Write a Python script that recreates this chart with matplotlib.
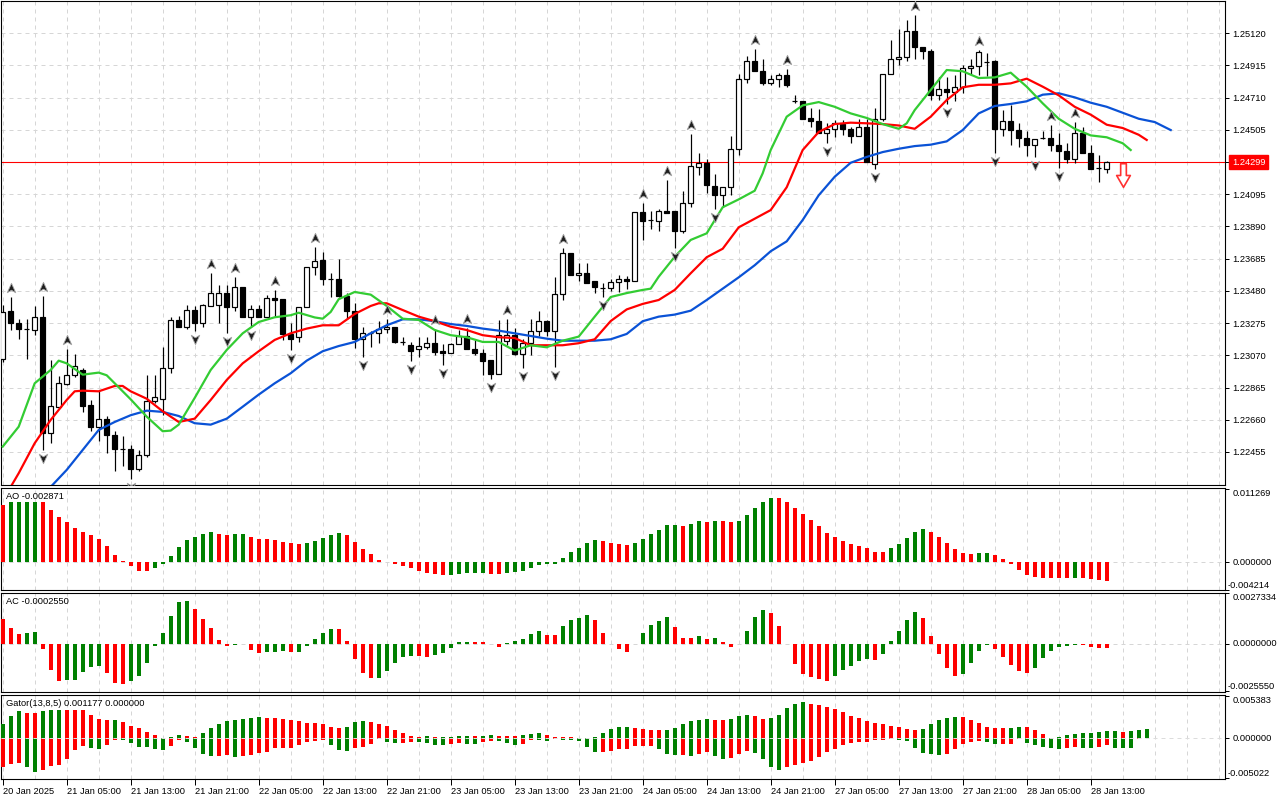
import matplotlib
matplotlib.use('Agg')
import numpy as np
import matplotlib.pyplot as plt
import matplotlib.transforms as mtransforms
from matplotlib.path import Path

# ---------------- data (H1 EURUSD-like) ----------------
opens = [1.23047,1.23352,1.23276,1.23238,1.23231,1.23314,1.22576,1.22741,1.22888,1.22945,
1.22977,1.22754,1.22614,1.22665,1.22563,1.22474,1.22474,1.22347,1.22436,1.22780,
1.22792,1.22990,1.23295,1.23250,1.23358,1.23276,1.23384,1.23390,1.23466,1.23378,
1.23505,1.23314,1.23365,1.23314,1.23435,1.23428,1.23206,1.23187,1.23378,1.23632,
1.23676,1.23556,1.23556,1.23447,1.23352,1.23174,1.23212,1.23212,1.23238,1.23250,
1.23155,1.23136,1.23110,1.23123,1.23149,1.23098,1.23085,1.23142,1.23193,1.23110,
1.23085,1.23040,1.22951,1.23161,1.23199,1.23079,1.23149,1.23225,1.23288,1.23225,
1.23460,1.23721,1.23581,1.23594,1.23543,1.23498,1.23498,1.23537,1.23556,1.23543,
1.23982,1.23931,1.23924,1.23988,1.23988,1.23861,1.24039,1.24268,1.24293,1.24147,
1.24090,1.24141,1.24382,1.24828,1.24942,1.24878,1.24802,1.24828,1.24853,1.24688,
1.24688,1.24580,1.24560,1.24484,1.24510,1.24541,1.24510,1.24465,1.24522,1.24287,
1.24573,1.24859,1.24955,1.24968,1.25133,1.25031,1.25006,1.24726,1.24764,1.24745,
1.24777,1.24897,1.24910,1.24936,1.24942,1.24510,1.24560,1.24503,1.24452,1.24408,
1.24452,1.24452,1.24408,1.24370,1.24319,1.24484,1.24357,1.24262,1.24255]
highs = [1.23390,1.23441,1.23301,1.23301,1.23384,1.23447,1.23040,1.22939,1.23110,1.23079,
1.22990,1.22786,1.22843,1.22684,1.22589,1.22557,1.22500,1.22468,1.22945,1.22945,
1.23123,1.23314,1.23320,1.23390,1.23384,1.23397,1.23594,1.23517,1.23517,1.23568,
1.23505,1.23390,1.23390,1.23454,1.23486,1.23428,1.23276,1.23378,1.23632,1.23759,
1.23727,1.23594,1.23683,1.23466,1.23403,1.23250,1.23225,1.23288,1.23301,1.23250,
1.23187,1.23155,1.23187,1.23187,1.23238,1.23142,1.23149,1.23231,1.23244,1.23168,
1.23110,1.23040,1.23295,1.23301,1.23244,1.23174,1.23301,1.23352,1.23295,1.23568,
1.23753,1.23721,1.23657,1.23657,1.23543,1.23530,1.23556,1.23581,1.23575,1.23982,
1.24039,1.23988,1.24001,1.24185,1.23988,1.24115,1.24478,1.24357,1.24319,1.24223,
1.24141,1.24465,1.24859,1.24974,1.25018,1.24955,1.24853,1.24866,1.24891,1.24726,
1.24688,1.24643,1.24637,1.24548,1.24567,1.24567,1.24522,1.24573,1.24573,1.24643,
1.24859,1.25076,1.25146,1.25203,1.25235,1.25031,1.25018,1.24840,1.24840,1.24853,
1.24917,1.24955,1.25012,1.24993,1.24948,1.24630,1.24662,1.24548,1.24497,1.24446,
1.24497,1.24535,1.24484,1.24421,1.24554,1.24522,1.24408,1.24344,1.24306]
lows = [1.23028,1.23231,1.23174,1.23047,1.23199,1.22468,1.22513,1.22729,1.22881,1.22932,
1.22710,1.22589,1.22525,1.22449,1.22334,1.22366,1.22284,1.22334,1.22424,1.22767,
1.22691,1.22958,1.23250,1.23238,1.23225,1.23250,1.23384,1.23276,1.23212,1.23352,
1.23314,1.23250,1.23314,1.23314,1.23314,1.23168,1.23104,1.23155,1.23378,1.23581,
1.23517,1.23441,1.23441,1.23301,1.23117,1.23060,1.23123,1.23149,1.23212,1.23149,
1.23136,1.23034,1.23060,1.23110,1.23072,1.23009,1.23085,1.23142,1.23110,1.23072,
1.22945,1.22920,1.22951,1.23136,1.23072,1.22990,1.23072,1.23193,1.23193,1.22996,
1.23422,1.23581,1.23543,1.23530,1.23466,1.23441,1.23479,1.23473,1.23492,1.23543,
1.23804,1.23874,1.23861,1.23975,1.23753,1.23848,1.24014,1.24217,1.24103,1.24001,
1.24014,1.24090,1.24344,1.24802,1.24878,1.24789,1.24789,1.24777,1.24777,1.24675,
1.24573,1.24522,1.24484,1.24421,1.24459,1.24471,1.24421,1.24465,1.24300,1.24255,
1.24560,1.24859,1.24917,1.24942,1.24955,1.24955,1.24694,1.24694,1.24669,1.24688,
1.24739,1.24853,1.24853,1.24847,1.24357,1.24465,1.24408,1.24395,1.24338,1.24332,
1.24446,1.24370,1.24262,1.24293,1.24293,1.24357,1.24255,1.24173,1.24230]
closes = [1.23346,1.23276,1.23238,1.23240,1.23314,1.22576,1.22748,1.22894,1.22945,1.23002,
1.22748,1.22614,1.22665,1.22563,1.22474,1.22476,1.22347,1.22436,1.22780,1.22805,
1.22990,1.23295,1.23250,1.23358,1.23276,1.23390,1.23466,1.23466,1.23378,1.23505,
1.23314,1.23365,1.23314,1.23435,1.23422,1.23206,1.23174,1.23378,1.23632,1.23670,
1.23556,1.23554,1.23447,1.23352,1.23174,1.23212,1.23214,1.23238,1.23250,1.23155,
1.23157,1.23098,1.23129,1.23149,1.23091,1.23085,1.23142,1.23193,1.23110,1.23085,
1.23034,1.22951,1.23199,1.23199,1.23079,1.23149,1.23225,1.23288,1.23225,1.23460,
1.23721,1.23581,1.23594,1.23530,1.23505,1.23500,1.23537,1.23556,1.23543,1.23982,
1.23924,1.23933,1.23988,1.23975,1.23861,1.24039,1.24274,1.24293,1.24153,1.24090,
1.24141,1.24382,1.24828,1.24942,1.24878,1.24802,1.24828,1.24853,1.24789,1.24690,
1.24573,1.24560,1.24484,1.24510,1.24548,1.24510,1.24465,1.24522,1.24300,1.24573,
1.24859,1.24955,1.24968,1.25133,1.25031,1.25006,1.24726,1.24764,1.24745,1.24777,
1.24897,1.24910,1.24999,1.24938,1.24510,1.24560,1.24503,1.24452,1.24408,1.24446,
1.24454,1.24408,1.24370,1.24319,1.24484,1.24357,1.24255,1.24264,1.24299]

# Alligator (bar index -> price)
jaw_idx = list(range(6, 147, 2))
jaw_vals = [1.22233,1.22341,1.22468,1.22595,1.22646,1.22689,1.22718,1.22710,1.22684,1.22638,
1.22629,1.22667,1.22743,1.22820,1.22892,1.22956,1.23036,1.23096,1.23129,1.23155,
1.23210,1.23261,1.23299,1.23299,1.23287,1.23269,1.23257,1.23240,1.23227,1.23210,
1.23193,1.23176,1.23163,1.23163,1.23163,1.23172,1.23206,1.23287,1.23316,1.23329,
1.23354,1.23422,1.23494,1.23566,1.23643,1.23732,1.23795,1.23931,1.24088,1.24206,
1.24295,1.24332,1.24363,1.24384,1.24401,1.24410,1.24431,1.24503,1.24609,1.24656,
1.24669,1.24686,1.24728,1.24737,1.24711,1.24677,1.24651,1.24613,1.24575,1.24554,1.24503]
teeth_idx = [1,2,4,6,8,9,10,12,14,15,16,18,20,22,24,26,28,30,32,34,36,38,40,42,44,46,47,48,
50,52,54,56,58,60,62,64,66,68,70,72,74,76,78,80,82,84,86,88,90,92,94,96,98,100,102,104,
106,108,110,112,114,116,118,120,122,124,126,128,130,132,134,136,138,140,142,143]
teeth_vals = [1.22233,1.22320,1.22511,1.22659,1.22786,1.22841,1.22845,1.22841,1.22875,1.22875,
1.22841,1.22794,1.22714,1.22646,1.22667,1.22786,1.22913,1.23019,1.23096,1.23168,
1.23210,1.23240,1.23261,1.23261,1.23333,1.23384,1.23401,1.23401,1.23358,1.23316,
1.23287,1.23252,1.23231,1.23198,1.23185,1.23180,1.23134,1.23134,1.23134,1.23147,
1.23172,1.23288,1.23362,1.23397,1.23422,1.23486,1.23592,1.23694,1.23748,1.23884,
1.23939,1.23994,1.24139,1.24376,1.24491,1.24541,1.24550,1.24546,1.24541,1.24532,
1.24511,1.24588,1.24694,1.24775,1.24791,1.24791,1.24800,1.24830,1.24779,1.24724,
1.24651,1.24601,1.24537,1.24516,1.24473,1.24440]
lips_idx = [0,2,4,6,7,8,10,12,13,14,16,18,20,21,22,24,26,28,30,32,34,36,37,39,40,41,42,44,
46,48,50,52,54,56,58,60,62,64,66,68,70,72,74,76,78,80,81,82,84,86,88,90,92,94,95,96,98,
100,102,104,106,108,110,112,113,114,116,118,120,122,124,126,128,130,132,134,136,138,140,141]
lips_vals = [1.22489,1.22616,1.22892,1.22977,1.23036,1.23019,1.22947,1.22960,1.22943,1.22892,
1.22790,1.22680,1.22587,1.22591,1.22629,1.22799,1.22977,1.23104,1.23210,1.23282,
1.23312,1.23325,1.23341,1.23311,1.23303,1.23346,1.23427,1.23473,1.23456,1.23384,
1.23303,1.23295,1.23231,1.23198,1.23185,1.23155,1.23155,1.23100,1.23134,1.23121,
1.23163,1.23189,1.23316,1.23441,1.23466,1.23486,1.23494,1.23570,1.23697,1.23804,
1.23846,1.24012,1.24062,1.24117,1.24228,1.24376,1.24588,1.24660,1.24681,1.24651,
1.24609,1.24580,1.24541,1.24511,1.24546,1.24630,1.24758,1.24885,1.24877,1.24834,
1.24838,1.24868,1.24779,1.24673,1.24575,1.24511,1.24469,1.24457,1.24419,1.24376]

fractal_up_idx = [1,5,8,26,29,34,39,48,54,58,63,70,80,83,86,94,98,114,122,131,134]
fractal_down_idx = [5,16,24,28,31,36,45,51,55,61,65,69,75,84,89,103,109,118,124,129,132]

current_price = 1.24299
signal_idx = 140
signal_price = 1.24214

ao = [0.008824,0.009340,0.009350,0.009360,0.009370,0.009300,0.008050,0.007018,0.006244,0.005315,
0.004696,0.004231,0.003612,0.002528,0.001135,0.000206,-0.000516,-0.001290,-0.001300,-0.000826,
-0.000206,0.000980,0.002374,0.003509,0.003922,0.004386,0.004696,0.004386,0.004231,0.004386,
0.004390,0.003922,0.003612,0.003600,0.003457,0.003148,0.002993,0.002838,0.002993,0.003302,
0.003767,0.004231,0.004541,0.004231,0.003148,0.002064,0.001290,0.000361,0.000030,-0.000206,
-0.000568,-0.000826,-0.001290,-0.001600,-0.001754,-0.001909,-0.001900,-0.001754,-0.001600,-0.001590,
-0.001585,-0.001754,-0.001760,-0.001600,-0.001445,-0.001290,-0.000826,-0.000413,-0.000310,-0.000206,
0.000671,0.001600,0.002219,0.002993,0.003457,0.003302,0.002993,0.002838,0.002683,0.002993,
0.003612,0.004386,0.005005,0.005779,0.005790,0.005624,0.005934,0.006398,0.006244,0.006398,
0.006390,0.006244,0.006398,0.007327,0.008411,0.009340,0.009959,0.009950,0.009340,0.008411,
0.007482,0.006553,0.005624,0.004541,0.003922,0.003302,0.002838,0.002528,0.002219,0.001600,
0.001590,0.002219,0.002838,0.003767,0.004696,0.005160,0.004696,0.003922,0.002993,0.002064,
0.001445,0.001290,0.001445,0.001450,0.001135,0.000516,-0.000206,-0.001135,-0.001909,-0.002219,
-0.002374,-0.002380,-0.002385,-0.002477,-0.002374,-0.002380,-0.002528,-0.002683,-0.002871]
ac = [0.001331,0.000845,0.000522,0.000576,0.000630,-0.000288,-0.001421,-0.002015,-0.001961,-0.001955,
-0.001529,-0.001259,-0.001205,-0.001583,-0.002123,-0.002177,-0.002015,-0.001745,-0.001025,-0.000126,
0.000576,0.001493,0.002249,0.002303,0.001871,0.001331,0.000845,0.000198,-0.000108,-0.000054,
-0.000036,-0.000324,-0.000486,-0.000432,-0.000428,-0.000378,-0.000432,-0.000430,-0.000108,0.000252,
0.000576,0.000792,0.000790,0.000144,-0.000828,-0.001583,-0.001853,-0.001850,-0.001475,-0.001043,
-0.000720,-0.000666,-0.000670,-0.000720,-0.000612,-0.000504,-0.000234,0.000072,0.000075,0.000072,
0.000070,-0.000020,-0.000162,0.000054,0.000162,0.000252,0.000540,0.000684,0.000468,0.000465,
0.000953,0.001277,0.001385,0.001547,0.001277,0.000576,-0.000036,-0.000288,-0.000450,-0.000036,
0.000576,0.001007,0.001223,0.001439,0.000900,0.000306,0.000300,0.000414,0.000252,0.000306,
0.000090,-0.000162,0.000010,0.000684,0.001439,0.001817,0.001655,0.000953,-0.000036,-0.001079,
-0.001619,-0.001799,-0.001907,-0.002015,-0.001745,-0.001421,-0.001205,-0.000935,-0.000828,-0.000882,
-0.000558,0.000144,0.000684,0.001277,0.001709,0.001385,0.000414,-0.000540,-0.001295,-0.001727,
-0.001619,-0.001025,-0.000396,-0.000054,-0.000270,-0.000702,-0.001133,-0.001457,-0.001565,-0.001295,
-0.000756,-0.000378,-0.000162,-0.000108,-0.000054,-0.000060,-0.000162,-0.000216,-0.000255]
gator_upper = [0.001777,0.002792,0.003426,0.003173,0.003170,0.003426,0.003553,0.003560,0.003550,0.003545,
0.003540,0.002919,0.002411,0.002284,0.002290,0.002030,0.001523,0.001269,0.000761,0.000381,
0.000040,0.000127,0.000381,0.000254,0.000127,0.000635,0.001227,0.001777,0.002157,0.002284,
0.002411,0.002538,0.002665,0.002538,0.002530,0.002411,0.002284,0.002115,0.001904,0.001900,
0.001777,0.001396,0.001269,0.001396,0.002030,0.002157,0.002030,0.001777,0.001523,0.001015,
0.000610,0.000250,0.000150,0.000230,0.000110,0.000120,0.000130,0.000250,0.000260,0.000250,
0.000260,0.000380,0.000260,0.000250,0.000240,0.000340,0.000470,0.000600,0.000380,0.000130,
0.000100,0.000090,0.000020,0.000040,0.000130,0.000592,0.001100,0.001354,0.001360,0.001227,
0.001100,0.000973,0.000970,0.000975,0.001227,0.001734,0.002115,0.002242,0.002369,0.002242,
0.002240,0.002369,0.002750,0.002876,0.002750,0.002369,0.002496,0.002876,0.003765,0.004272,
0.004526,0.004272,0.004145,0.003892,0.003638,0.003257,0.002750,0.002496,0.002115,0.001861,
0.001734,0.001481,0.001354,0.001100,0.001015,0.001142,0.001777,0.002284,0.002538,0.002665,
0.002660,0.002284,0.001904,0.001396,0.001269,0.001265,0.001270,0.001396,0.001390,0.001015,
0.000508,0.000042,0.000127,0.000381,0.000508,0.000635,0.000640,0.000761,0.000888,0.000890,
0.000761,0.000888,0.001015,0.001177]
gator_lower = [-0.003722,-0.003299,-0.003215,-0.003638,-0.004272,-0.004019,-0.003511,-0.003384,-0.002623,-0.001481,
-0.000973,-0.001269,-0.001354,-0.000846,-0.000212,-0.000220,-0.000592,-0.001100,-0.001184,-0.001354,
-0.001481,-0.000973,-0.000212,-0.000465,-0.001227,-0.001988,-0.002242,-0.002240,-0.002115,-0.002453,
-0.002327,-0.002115,-0.001946,-0.001819,-0.001269,-0.001227,-0.001220,-0.000846,-0.000465,-0.000338,
-0.000296,-0.000846,-0.001481,-0.001607,-0.001227,-0.001100,-0.000719,-0.000085,-0.000465,-0.000635,
-0.000570,-0.000450,-0.000480,-0.000600,-0.000880,-0.000900,-0.000760,-0.000650,-0.000750,-0.000760,
-0.000550,-0.000420,-0.000430,-0.000590,-0.000850,-0.000780,-0.000300,-0.000310,-0.000320,-0.000100,
-0.000230,-0.000240,-0.000360,-0.001100,-0.001750,-0.001730,-0.001692,-0.001438,-0.001396,-0.001058,
-0.001050,-0.001040,-0.001438,-0.002073,-0.002200,-0.002195,-0.002327,-0.002073,-0.001819,-0.002327,
-0.002707,-0.002580,-0.002073,-0.001692,-0.001946,-0.002707,-0.003722,-0.004103,-0.003722,-0.003469,
-0.003215,-0.002961,-0.002453,-0.001819,-0.001438,-0.000931,-0.000677,-0.000550,-0.000545,-0.000296,
-0.000290,-0.000169,-0.000296,-0.000423,-0.001227,-0.001861,-0.001988,-0.002115,-0.001988,-0.001354,
-0.000719,-0.000465,-0.000338,-0.000465,-0.000719,-0.000715,-0.000710,-0.000085,-0.000592,-0.000846,
-0.001100,-0.001227,-0.001354,-0.001227,-0.001100,-0.001227,-0.001230,-0.001100,-0.000846,-0.001227,
-0.001230,-0.001235,-0.000085,-0.000040]

price_ticks = [1.22455,1.22660,1.22865,1.23070,1.23275,1.23480,1.23685,1.23890,1.24095,
               1.24300,1.24505,1.24710,1.24915,1.25120]
time_tick_idx = list(range(0, 137, 8))
time_tick_labels = ['20 Jan 2025','21 Jan 05:00','21 Jan 13:00','21 Jan 21:00','22 Jan 05:00',
                    '22 Jan 13:00','22 Jan 21:00','23 Jan 05:00','23 Jan 13:00','23 Jan 21:00',
                    '24 Jan 05:00','24 Jan 13:00','24 Jan 21:00','27 Jan 05:00','27 Jan 13:00',
                    '27 Jan 21:00','28 Jan 05:00','28 Jan 13:00']
ao_range = (-0.004214, 0.011269)
ac_range = (-0.0025550, 0.0027334)
gator_range = (-0.005022, 0.005383)

# ---------------- style ----------------
plt.rcParams['font.family'] = ['Liberation Sans', 'DejaVu Sans']
FS = 6.7
GREEN = '#008000'
RED = '#ff0000'
GRID = '#d6d6d6'
PX = 0.72  # one pixel in points at 100 dpi

fig = plt.figure(figsize=(12.8, 8), dpi=100)
W, H = 1280.0, 800.0


def rect(x0, y0, x1, y1):
    return [x0 / W, 1 - y1 / H, (x1 - x0) / W, (y1 - y0) / H]


ax = fig.add_axes(rect(1, 1, 1225, 485))
ax_ao = fig.add_axes(rect(1, 488, 1225, 590))
ax_ac = fig.add_axes(rect(1, 593, 1225, 692))
ax_g = fig.add_axes(rect(1, 695, 1225, 779))
XL = ((1 - 2.7) / 8, (1225 - 2.7) / 8)

for a in (ax, ax_ao, ax_ac, ax_g):
    a.set_xlim(*XL)
    for s in a.spines.values():
        s.set_color('black')
        s.set_linewidth(PX * 1.1)
    for g in range(0, 153, 4):
        a.axvline(g, color=GRID, lw=PX, ls=(0, (4, 4)), zorder=0.5)
    a.yaxis.tick_right()
    a.tick_params(axis='y', direction='out', length=3, width=PX, pad=2.2, labelsize=FS)
    a.set_xticks([])

# ---------------- main chart ----------------
ax.set_ylim(1.22245, 1.25324)
for t in price_ticks:
    ax.axhline(t, color=GRID, lw=PX, ls=(0, (4, 4)), zorder=0.5)
ax.set_yticks(price_ticks)
ax.set_yticklabels([f'{t:.5f}' if abs(t - current_price) > 0.0001 else '' for t in price_ticks])

o = np.array(opens); hi = np.array(highs); lo = np.array(lows); c = np.array(closes)
x = np.arange(len(o))
ax.axhline(current_price, color=RED, lw=PX * 1.1, zorder=2)
ax.vlines(x, lo, hi, color='black', linewidth=PX * 1.2, zorder=3)
bull = c >= o
ax.bar(x[bull], (c - o)[bull], bottom=o[bull], width=0.6, facecolor='white',
       edgecolor='black', linewidth=PX * 1.2, zorder=4)
ax.bar(x[~bull], (o - c)[~bull], bottom=c[~bull], width=0.6, facecolor='black',
       edgecolor='black', linewidth=PX * 1.2, zorder=4)

ax.plot(jaw_idx, jaw_vals, color='#0a52d6', lw=1.6, zorder=5, solid_joinstyle='round')
ax.plot(teeth_idx, teeth_vals, color='#ff0000', lw=1.6, zorder=5, solid_joinstyle='round')
ax.plot(lips_idx, lips_vals, color='#33cc33', lw=1.6, zorder=5, solid_joinstyle='round')

up_path = Path([(0, 0.55), (0.45, -0.45), (0, -0.18), (-0.45, -0.45), (0, 0.55)],
               [Path.MOVETO, Path.LINETO, Path.LINETO, Path.LINETO, Path.CLOSEPOLY])
dn_path = Path([(0, -0.55), (0.45, 0.45), (0, 0.18), (-0.45, 0.45), (0, -0.55)],
               [Path.MOVETO, Path.LINETO, Path.LINETO, Path.LINETO, Path.CLOSEPOLY])
tr_up = mtransforms.offset_copy(ax.transData, fig=fig, x=0, y=9, units='dots')
tr_dn = mtransforms.offset_copy(ax.transData, fig=fig, x=0, y=-8, units='dots')
ax.plot(fractal_up_idx, [highs[i] for i in fractal_up_idx], ls='none', marker=up_path,
        markersize=7.5, mfc='#1e1e1e', mec='#a8a8a8', mew=0.6, transform=tr_up, zorder=6)
ax.plot(fractal_down_idx, [lows[i] for i in fractal_down_idx], ls='none', marker=dn_path,
        markersize=7.5, mfc='#1e1e1e', mec='#a8a8a8', mew=0.6, transform=tr_dn, zorder=6)

sig_path = Path([(-0.12, 0.5), (0.12, 0.5), (0.12, 0.0), (0.29, 0.0), (0, -0.5),
                 (-0.29, 0.0), (-0.12, 0.0), (-0.12, 0.5)],
                [Path.MOVETO] + [Path.LINETO] * 6 + [Path.CLOSEPOLY])
ax.plot([signal_idx], [signal_price], ls='none', marker=sig_path, markersize=17,
        mfc='white', mec='#ff3030', mew=1.2, zorder=6)

ytr = mtransforms.blended_transform_factory(ax.transAxes, ax.transData)
ax.annotate(f'{current_price:.5f}', xy=(1, current_price), xycoords=ytr,
            xytext=(7, 0), textcoords='offset pixels', ha='left', va='center',
            fontsize=FS, color='white', annotation_clip=False, zorder=10,
            bbox=dict(boxstyle='square,pad=0.28', fc=RED, ec=RED))


# ---------------- indicator panels ----------------
def diff_colors(vals, first, use_abs=False):
    out = [first]
    for i in range(1, len(vals)):
        a, b = vals[i], vals[i - 1]
        if use_abs:
            a, b = abs(a), abs(b)
        out.append(GREEN if a > b else RED)
    return out


def side_labels(a, lohi, fmt):
    tr = mtransforms.blended_transform_factory(a.transAxes, a.transData)
    lo_v, hi_v = lohi
    a.set_yticks([lo_v, 0, hi_v])
    a.set_yticklabels([])
    for val, va in ((hi_v, 'top'), (0.0, 'center'), (lo_v, 'bottom')):
        s = fmt.format(val)
        off = 3 if s.startswith('-') else 7.5
        a.annotate(s, xy=(1, val), xycoords=tr, xytext=(off, 0), textcoords='offset pixels',
                   ha='left', va=va, fontsize=FS, annotation_clip=False)


def header(a, text):
    a.annotate(text, xy=(0, 1), xycoords='axes fraction', xytext=(5, -8.5),
               textcoords='offset pixels', ha='left', va='center', fontsize=FS)


# AO
ax_ao.set_ylim(-0.00429, 0.0115)
ax_ao.axhline(0, color=GRID, lw=PX, ls=(0, (4, 4)), zorder=0.5)
ax_ao.bar(np.arange(len(ao)), ao, width=0.5, color=diff_colors(ao, RED), linewidth=0, zorder=3)
side_labels(ax_ao, ao_range, '{:.6f}')
header(ax_ao, f'AO {ao[-1]:.6f}')

# AC
ax_ac.set_ylim(-0.002606, 0.002736)
ax_ac.axhline(0, color=GRID, lw=PX, ls=(0, (4, 4)), zorder=0.5)
ax_ac.bar(np.arange(len(ac)), ac, width=0.5, color=diff_colors(ac, RED), linewidth=0, zorder=3)
side_labels(ax_ac, ac_range, '{:.7f}')
header(ax_ac, f'AC {ac[-1]:.7f}')

# Gator
ax_g.set_ylim(-0.0052, 0.00546)
ax_g.bar(np.arange(len(gator_upper)), gator_upper, width=0.5,
         color=diff_colors(gator_upper, GREEN, True), linewidth=0, zorder=3)
ax_g.bar(np.arange(len(gator_lower)), gator_lower, width=0.5,
         color=diff_colors(gator_lower, RED, True), linewidth=0, zorder=3)
ax_g.axhline(0, color='#dcdcdc', lw=PX, ls=(0, (4, 4)), zorder=5)
side_labels(ax_g, gator_range, '{:.6f}')
header(ax_g, f'Gator(13,8,5) {gator_upper[-1]:.6f} {0.0:.6f}')

ax_g.set_xticks(time_tick_idx)
ax_g.set_xticklabels(time_tick_labels, ha='left', fontsize=FS)
ax_g.tick_params(axis='x', direction='out', length=4, width=PX, pad=2)

fig.savefig('out.png', dpi=100, facecolor='white')
